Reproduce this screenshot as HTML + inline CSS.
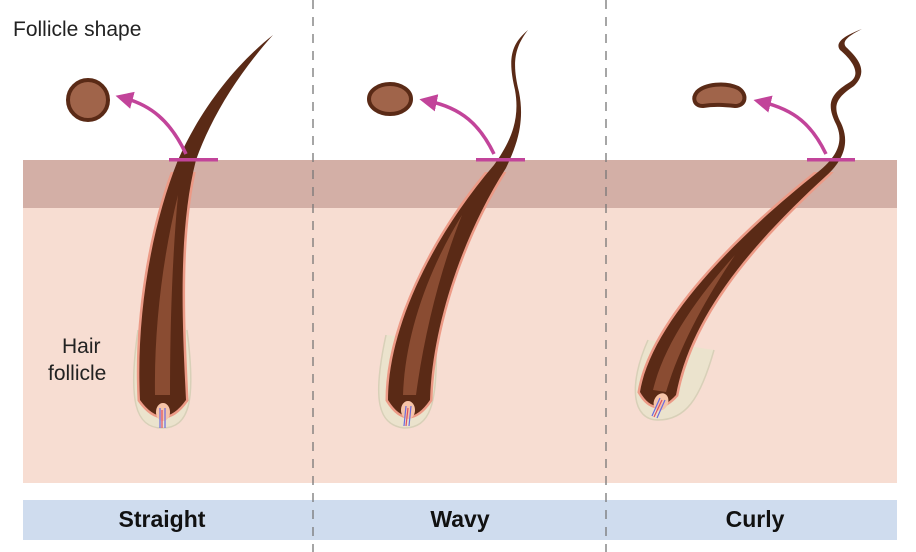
<!DOCTYPE html>
<html><head><meta charset="utf-8"><style>
html,body{margin:0;padding:0;background:#fff;}
svg{display:block;}
text{font-family:"Liberation Sans",sans-serif;}
</style></head><body>
<svg width="916" height="552" viewBox="0 0 916 552" xmlns="http://www.w3.org/2000/svg">
<defs>
<marker id="ah" viewBox="0 0 10 10" refX="5" refY="5" markerWidth="5" markerHeight="5" orient="auto-start-reverse"><path d="M0,0 L10,5 L0,10 Z" fill="#c2449a"/></marker>
<clipPath id="under"><rect x="0" y="172" width="916" height="400"/></clipPath>
<path id="h1" d="M140 400 C136 320 150 230 178 160 C200 110 235 65 273 35 C240 72 212 115 196 160 C178 230 182 320 186 400 Q163 432 140 400 Z"/>
<path id="h2" d="M388 400 C388 330 430 240 494 165 C512 140 520 118 515 90 C508 60 510 45 528 30 C514 48 512 64 519 92 C525 122 517 145 506 168 C460 240 432 330 430 400 Q408 432 388 400 Z"/>
<path id="h3" d="M640 392 C650 330 720 250 818 172 C838 156 844 141 836 124 C826 104 830 94 850 82 C862 74 852 60 840 50 C834 42 846 35 862 29 C850 35 841 41 846 47 C860 60 868 72 854 86 C836 98 832 106 841 123 C850 142 844 160 826 176 C745 250 690 320 676 395 Q655 418 640 392 Z"/>
</defs>
<rect x="23" y="160" width="874" height="48" fill="#d3afa6"/>
<rect x="23" y="208" width="874" height="275" fill="#f7ddd2"/>
<rect x="23" y="500" width="874" height="40" fill="#cfdcee"/>

<text x="13" y="36" font-size="21" fill="#222">Follicle shape</text>
<text x="62" y="353" font-size="21" fill="#222">Hair</text>
<text x="48" y="380" font-size="21" fill="#222">follicle</text>

<!-- straight -->
<path d="M138 330 C128 400 135 428 162 428 C190 428 196 400 187 330" fill="#ebe3cd" stroke="#d8d0b8" stroke-width="1.5"/>
<use href="#h1" fill="none" stroke="#ec9a86" stroke-width="5" clip-path="url(#under)"/>
<use href="#h1" fill="#5a2a16"/>
<path d="M155 395 C154 330 162 260 178 195 C172 260 170 330 170 395 Z" fill="#8a4c32"/>
<ellipse cx="163" cy="412" rx="7" ry="9" fill="#f6c4a8"/>
<path d="M160 428 L160 408 M165 428 L165 408" stroke="#6a6ae0" stroke-width="1.2"/>
<path d="M162 428 L162 410" stroke="#e05060" stroke-width="1.2"/>
<circle cx="88" cy="100" r="20" fill="#a0644a" stroke="#5a2a16" stroke-width="4"/>
<path d="M186 154 C170 120 150 105 124 98" stroke="#c2449a" stroke-width="3.5" fill="none" marker-end="url(#ah)"/>
<rect x="169" y="158" width="49" height="3.5" fill="#c2449a"/>

<!-- wavy -->
<path d="M386 335 C372 400 378 425 404 428 C430 428 438 405 436 340" fill="#ebe3cd" stroke="#d8d0b8" stroke-width="1.5"/>
<use href="#h2" fill="none" stroke="#ec9a86" stroke-width="5" clip-path="url(#under)"/>
<use href="#h2" fill="#5a2a16"/>
<path d="M403 395 C405 335 428 270 462 215 C440 270 424 335 416 395 Z" fill="#8a4c32"/>
<ellipse cx="408" cy="410" rx="7" ry="9" fill="#f6c4a8"/>
<path d="M404 426 L406 406 M409 426 L411 406" stroke="#6a6ae0" stroke-width="1.2"/>
<path d="M406 426 L408 408" stroke="#e05060" stroke-width="1.2"/>
<ellipse cx="390" cy="99" rx="21" ry="15" fill="#a0644a" stroke="#5a2a16" stroke-width="4"/>
<path d="M494 154 C480 125 462 108 428 101" stroke="#c2449a" stroke-width="3.5" fill="none" marker-end="url(#ah)"/>
<rect x="476" y="158" width="49" height="3.5" fill="#c2449a"/>

<!-- curly -->
<path d="M648 340 C628 385 632 420 658 420 C685 420 700 400 714 350" fill="#ebe3cd" stroke="#d8d0b8" stroke-width="1.5"/>
<use href="#h3" fill="none" stroke="#ec9a86" stroke-width="5" clip-path="url(#under)"/>
<use href="#h3" fill="#5a2a16"/>
<path d="M653 390 C664 345 695 300 735 255 C705 300 680 345 666 392 Z" fill="#8a4c32"/>
<ellipse cx="661" cy="402" rx="7" ry="9" fill="#f6c4a8" transform="rotate(25 661 402)"/>
<path d="M652 416 L660 398 M657 418 L665 400" stroke="#6a6ae0" stroke-width="1.2"/>
<path d="M654 417 L662 400" stroke="#e05060" stroke-width="1.2"/>
<path d="M697 92 C705 84 725 82 738 88 C748 94 746 106 735 106 C725 105 715 104 703 106 C694 106 692 98 697 92 Z" fill="#a0644a" stroke="#5a2a16" stroke-width="4"/>
<path d="M826 154 C812 125 795 110 762 102" stroke="#c2449a" stroke-width="3.5" fill="none" marker-end="url(#ah)"/>
<rect x="807" y="158" width="48" height="3.5" fill="#c2449a"/>

<line x1="313" y1="0" x2="313" y2="552" stroke="#777" stroke-width="1.3" stroke-dasharray="9,8"/>
<line x1="606" y1="0" x2="606" y2="552" stroke="#777" stroke-width="1.3" stroke-dasharray="9,8"/>

<text x="162" y="527" font-size="23" font-weight="bold" fill="#111" text-anchor="middle">Straight</text>
<text x="460" y="527" font-size="23" font-weight="bold" fill="#111" text-anchor="middle">Wavy</text>
<text x="755" y="527" font-size="23" font-weight="bold" fill="#111" text-anchor="middle">Curly</text>
</svg>
</body></html>
